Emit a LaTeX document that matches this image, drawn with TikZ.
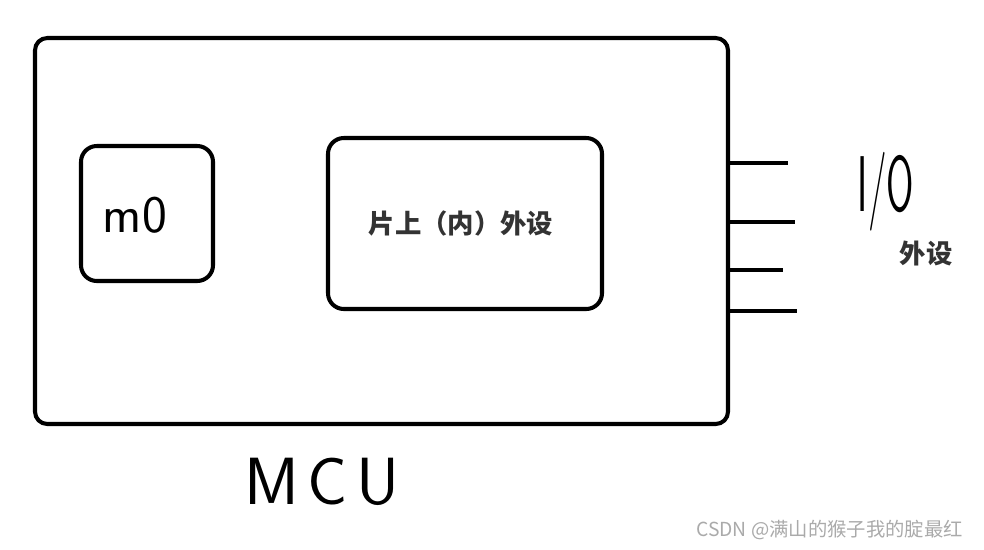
\documentclass[tikz,border=0pt]{standalone}
\usepackage{fontspec}
\newfontfamily\cjk{Noto Sans CJK SC}
\usetikzlibrary{fit}
\definecolor{mygray}{RGB}{51,51,51}
\definecolor{markgray}{RGB}{170,170,170}

\begin{document}
\begin{tikzpicture}[x=0.02cm,y=-0.02cm,
  box/.style={draw,line width=2.3pt,rounded corners=7pt,inner sep=0pt},
  pin/.style={line width=2.3pt},
  hand/.style={font=\sffamily},
  label/.style={font=\cjk\bfseries,text=mygray}]
\useasboundingbox (0,0) rectangle (984,549);

%chip outline
\node[box,fit={(35,38) (728,424)}] (mcu) {};
\node[box,rounded corners=9pt,fit={(81,146) (213,281)}] (core) {};
\node[box,rounded corners=9pt,fit={(328,138) (602,309)}] (periph) {};

%pins
\coordinate (p1) at (788,163);
\coordinate (p2) at (795,222);
\coordinate (p3) at (783,270);
\coordinate (p4) at (797,311);
\foreach \p in {p1,p2,p3,p4}{
  \draw[pin] (mcu.east |- \p) -- (\p);
}

%labels
\node[hand,font=\sffamily\fontsize{30}{32}\selectfont] (m0) at (135,215) {m0};
\node[label,font=\cjk\bfseries\fontsize{15}{18}\selectfont] (inner) at (461,223) {片上（内）外设};
\node[hand,font=\sffamily\fontsize{45}{48}\selectfont,xscale=0.5] (io) at (886,192) {I/O};
\node[label,font=\cjk\bfseries\fontsize{15}{18}\selectfont] (outer) at (926,253) {外设};
\node[hand,font=\sffamily\fontsize{38}{40}\selectfont] (name) at (322,482) {M\hspace{5pt}C\hspace{5pt}U};

%watermark
\node[font=\cjk\fontsize{11}{13}\selectfont,text=markgray,anchor=east] (mark) at (969,530) {CSDN @满山的猴子我的腚最红};
\end{tikzpicture}
\end{document}
